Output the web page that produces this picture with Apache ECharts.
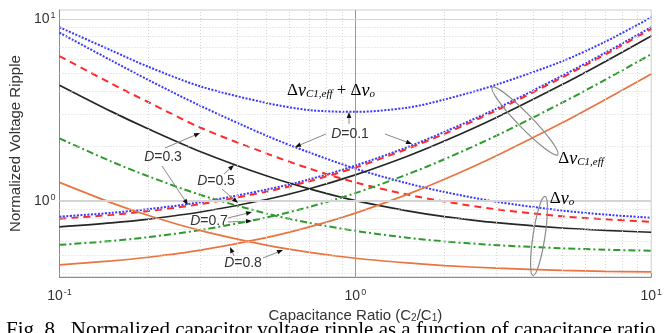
<!DOCTYPE html>
<html><head><meta charset="utf-8">
<script src="https://cdn.jsdelivr.net/npm/echarts@6/dist/echarts.min.js"></script>
<style>html,body{margin:0;padding:0;background:#fff}#c{width:665px;height:333px}</style>
</head><body><div id="c"></div>
<script>
// ---- data ----
const ratio = [0.1, 0.15, 0.2, 0.3, 0.5, 0.7, 1, 1.5, 2, 3, 5, 7, 10];
const d01_sum = [9.0, 6.7, 5.45, 4.25, 3.45, 3.15, 3.08, 3.25, 3.6, 4.35, 5.85, 7.5, 10.2];
const d01_vc1 = [0.816, 0.857, 0.898, 0.98, 1.15, 1.31, 1.56, 1.97, 2.39, 3.21, 4.87, 6.52, 9.0];
const d01_vo  = [8.4, 5.9, 4.61, 3.32, 2.28, 1.84, 1.5, 1.245, 1.116, 0.986, 0.882, 0.838, 0.805];
const d03_vc1 = [0.795, 0.835, 0.876, 0.957, 1.12, 1.28, 1.52, 1.93, 2.33, 3.14, 4.76, 6.38, 8.8];
const d03_vo  = [6.25, 4.40, 3.48, 2.52, 1.82, 1.50, 1.26, 1.08, 0.99, 0.895, 0.82, 0.79, 0.765];
const d05_vc1 = [0.718, 0.755, 0.792, 0.866, 1.015, 1.163, 1.386, 1.756, 2.127, 2.869, 4.352, 5.835, 8.06];
const d05_vo  = [4.32, 3.09, 2.48, 1.86, 1.37, 1.16, 1.0, 0.879, 0.817, 0.756, 0.707, 0.686, 0.67];
const d07_vc1 = [0.571, 0.60, 0.63, 0.689, 0.807, 0.924, 1.10, 1.396, 1.69, 2.28, 3.46, 4.63, 6.4];
const d07_vo  = [2.2, 1.64, 1.36, 1.075, 0.85, 0.754, 0.682, 0.625, 0.597, 0.569, 0.547, 0.537, 0.53];
const d08_vc1 = [0.443, 0.466, 0.488, 0.534, 0.626, 0.717, 0.854, 1.083, 1.311, 1.768, 2.68, 3.6, 4.97];
const d08_vo  = [1.26, 0.972, 0.828, 0.684, 0.569, 0.519, 0.482, 0.454, 0.439, 0.425, 0.413, 0.408, 0.405];
const xMinor = [0.2, 0.3, 0.4, 0.5, 0.6, 0.7, 0.8, 0.9, 2, 3, 4, 5, 6, 7, 8, 9];
const yMinor = [0.4, 0.5, 0.6, 0.7, 0.8, 0.9, 2, 3, 4, 5, 6, 7, 8, 9];
const xMajor = [1];
const yMajor = [1, 10];

// ---- styles ----
const SANS = 'Liberation Sans, Arial, sans-serif';
const SERIF = 'Liberation Serif, Times New Roman, serif';
const TXT = '#333';
const styles = {
  blue:   {color: '#3838ff', width: 2,   type: [2, 1.5]},
  red:    {color: '#ff2a2a', width: 2,   type: [7, 5]},
  black:  {color: '#262626', width: 1.7, type: 'solid'},
  green:  {color: '#2e9a2e', width: 2,   type: [7, 3, 2, 3]},
  orange: {color: '#e9743f', width: 1.7, type: 'solid'}
};
function ser(name, vals, st) {
  return {
    name: name, type: 'line', smooth: 0.3, showSymbol: false, z: 3,
    data: ratio.map((r, i) => [r, vals[i]]),
    lineStyle: {color: st.color, width: st.width, type: st.type},
    itemStyle: {color: st.color}
  };
}
function supLabel(v) {
  const e = Math.log10(v);
  const r = Math.round(e);
  if (Math.abs(e - r) > 1e-6) return '';
  return '{b|10}{s|' + r + '}';
}
const labRich = {
  b: {fontSize: 14, fontFamily: SANS, color: TXT, lineHeight: 16},
  s: {fontSize: 9, fontFamily: SANS, color: TXT, verticalAlign: 'top', lineHeight: 16, padding: [0, 0, 6, 1]}
};

const gridLines = {
  name: 'grid', type: 'line', data: [[1, 1]], showSymbol: false, silent: true, z: 1,
  lineStyle: {opacity: 0},
  markLine: {
    silent: true, symbol: 'none', label: {show: false}, animation: false,
    data: [].concat(
      xMinor.map(v => ({xAxis: v, lineStyle: {color: '#d6d6d6', width: 1, type: [1, 2]}})),
      yMinor.map(v => ({yAxis: v, lineStyle: {color: '#d6d6d6', width: 1, type: [1, 2]}})),
      xMajor.map(v => ({xAxis: v, lineStyle: {color: '#9a9a9a', width: 1, type: 'solid'}})),
      yMajor.map(v => ({yAxis: v, lineStyle: {color: '#d4d4d4', width: v === 1 ? 2 : 1, type: 'solid'}}))
    )
  }
};

// ---- annotations ----
function arrow(x1, y1, x2, y2) {
  const a = Math.atan2(y2 - y1, x2 - x1), L = 6, W = 2.3;
  const bx = x2 - L * Math.cos(a), by = y2 - L * Math.sin(a);
  const px = -Math.sin(a) * W, py = Math.cos(a) * W;
  return [
    {type: 'line', shape: {x1: x1, y1: y1, x2: bx, y2: by}, style: {stroke: '#888', lineWidth: 1}, z: 10},
    {type: 'polygon', shape: {points: [[x2, y2], [bx + px, by + py], [bx - px, by - py]]}, style: {fill: '#111'}, z: 10}
  ];
}
function dLabel(val, cx, cy) {
  return {type: 'text', x: cx, y: cy, z: 11, style: {
    text: '{i|D}{n|=' + val + '}', align: 'center', verticalAlign: 'middle',
    rich: {i: {fontSize: 14, fontStyle: 'italic', fontFamily: SANS, fill: TXT, color: TXT},
           n: {fontSize: 14, fontFamily: SANS, fill: TXT, color: TXT}}}};
}
const serifRich = {
  d: {fontSize: 17, fontFamily: SERIF, color: '#222'},
  v: {fontSize: 18, fontFamily: SERIF, fontStyle: 'italic', color: '#222'},
  s: {fontSize: 11, fontFamily: SERIF, fontStyle: 'italic', color: '#222', verticalAlign: 'bottom', padding: [0, 0, 0, 0]}
};
const graphics = [].concat(
  [{type: 'text', x: 331, y: 91, z: 11, style: {text: '{d|Δ}{v|v}{s|C1,eff}{d| + Δ}{v|v}{s|o}', align: 'center', verticalAlign: 'middle', rich: serifRich}}],
  [{type: 'text', x: 581, y: 159, z: 11, style: {text: '{d|Δ}{v|v}{s|C1,eff}', align: 'center', verticalAlign: 'middle', rich: serifRich}}],
  [{type: 'text', x: 562, y: 199, z: 11, style: {text: '{d|Δ}{v|v}{s|o}', align: 'center', verticalAlign: 'middle', rich: serifRich}}],
  [{type: 'ellipse', x: 525, y: 121, rotation: -0.80, z: 10, shape: {cx: 0, cy: 0, rx: 47, ry: 7}, style: {fill: 'none', stroke: '#8a8a8a', lineWidth: 1.2}}],
  [{type: 'ellipse', x: 539, y: 236, rotation: -0.15, z: 10, shape: {cx: 0, cy: 0, rx: 6, ry: 40}, style: {fill: 'none', stroke: '#8a8a8a', lineWidth: 1.2}}],
  [dLabel('0.1', 350, 134), dLabel('0.3', 163, 157), dLabel('0.5', 216, 181), dLabel('0.7', 209, 221), dLabel('0.8', 243, 263)],
  arrow(349, 124, 349, 112), arrow(326, 134, 295, 147), arrow(385, 134, 412, 144),
  arrow(165, 148, 200, 133), arrow(162, 166, 188, 205),
  arrow(224, 174, 234, 165), arrow(222, 189, 238, 203),
  arrow(228, 218, 252, 212), arrow(228, 222, 252, 221),
  arrow(234, 256, 230, 247), arrow(263, 258, 283, 250),
  [{type: 'text', x: 6, y: 320, z: 11, style: {text: 'Fig. 8.  Normalized capacitor voltage ripple as a function of capacitance ratio', font: '21px ' + SERIF, fill: '#000', align: 'left', verticalAlign: 'top'}}]
);

const option = {
  animation: false,
  backgroundColor: '#fff',
  grid: {left: 50, right: 7, top: 10, bottom: 56, show: true, borderColor: '#cccccc', borderWidth: 1},
  xAxis: {
    type: 'log', logBase: 10, min: 0.1, max: 10,
    name: '{t|Capacitance Ratio (C}{s|2}{t|/C}{s|1}{t|)}', nameLocation: 'middle', nameGap: 30,
    nameTextStyle: {rich: {t: {fontSize: 15, fontFamily: SANS, color: TXT}, s: {fontSize: 10, fontFamily: SANS, color: TXT, verticalAlign: 'bottom', padding: [6, 0, 0, 0]}}},
    axisLine: {lineStyle: {color: '#8a8a8a'}},
    axisTick: {inside: true, length: 4, lineStyle: {color: '#8a8a8a'}},
    splitLine: {show: false},
    axisLabel: {formatter: supLabel, rich: labRich, margin: 11}
  },
  yAxis: {
    type: 'log', logBase: 10, min: 0.38, max: 11.2,
    name: 'Normalized Voltage Ripple', nameLocation: 'middle', nameGap: 29,
    nameTextStyle: {fontSize: 15, fontFamily: SANS, color: TXT},
    axisLine: {show: true, lineStyle: {color: '#8a8a8a'}},
    axisTick: {inside: true, length: 4, lineStyle: {color: '#8a8a8a'}},
    splitLine: {show: false},
    axisLabel: {formatter: supLabel, rich: labRich, margin: 4, showMinLabel: false, showMaxLabel: false}
  },
  series: [
    gridLines,
    ser('D=0.1 sum', d01_sum, styles.blue),
    ser('D=0.1 vc1', d01_vc1, styles.blue),
    ser('D=0.1 vo', d01_vo, styles.blue),
    ser('D=0.3 vc1', d03_vc1, styles.red),
    ser('D=0.3 vo', d03_vo, styles.red),
    ser('D=0.5 vc1', d05_vc1, styles.black),
    ser('D=0.5 vo', d05_vo, styles.black),
    ser('D=0.7 vc1', d07_vc1, styles.green),
    ser('D=0.7 vo', d07_vo, styles.green),
    ser('D=0.8 vc1', d08_vc1, styles.orange),
    ser('D=0.8 vo', d08_vo, styles.orange)
  ],
  graphic: graphics
};
const chart = echarts.init(document.getElementById('c'));
chart.setOption(option);
</script></body></html>
